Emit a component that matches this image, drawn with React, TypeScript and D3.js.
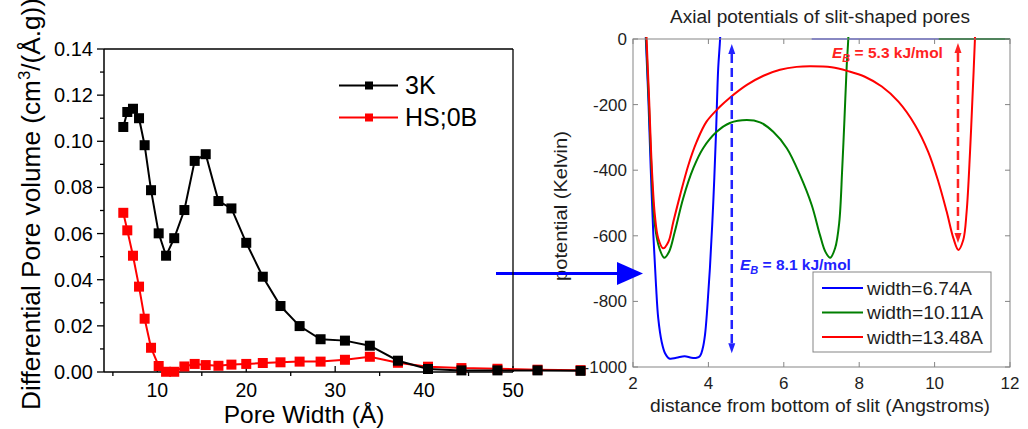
import React from 'react';
import * as d3 from 'd3';

// ---------- Left chart data ----------
const poreWidth = [6.17, 6.62, 7.26, 7.94, 8.57, 9.29, 10.15, 10.98, 11.9, 13.04, 14.2, 15.44, 16.87, 18.33, 20.0, 21.86, 23.85, 26.0, 28.36, 31.1, 33.9, 37.06, 40.44, 44.2, 48.25, 52.76, 57.6];
const dv3K = [0.1062, 0.1127, 0.1141, 0.110, 0.0983, 0.0788, 0.0601, 0.0504, 0.058, 0.0702, 0.0915, 0.0944, 0.0741, 0.0709, 0.056, 0.0413, 0.0286, 0.0199, 0.0142, 0.0136, 0.0114, 0.0049, 0.0013, 0.0007, 0.0007, 0.0007, 0.0005];
const dvHS0B = [0.069, 0.0614, 0.0504, 0.037, 0.0231, 0.0105, 0.0026, 0.0001, 0.0001, 0.0024, 0.0035, 0.003, 0.0027, 0.0032, 0.0035, 0.0039, 0.0042, 0.0045, 0.0045, 0.0053, 0.0066, 0.004, 0.0023, 0.0017, 0.0014, 0.001, 0.0008];
const leftSeriesNames = ['3K', 'HS;0B'];
const leftYTicks = [0, 0.02, 0.04, 0.06, 0.08, 0.1, 0.12, 0.14];
const leftYMinor = [0.01, 0.03, 0.05, 0.07, 0.09, 0.11, 0.13];
const leftXTicks = [10, 20, 30, 40, 50];
const leftXMinor = [5, 15, 25, 35, 45];

// ---------- Right chart data ----------
const distBlue = [2.30, 2.34, 2.41, 2.47, 2.54, 2.61, 2.67, 2.76, 2.85, 2.96, 3.15, 3.37, 3.55, 3.69, 3.78, 3.85, 3.91, 3.97, 4.04, 4.13, 4.20, 4.26, 4.31, 4.35];
const potBlue = [150, 0, -191, -394, -598, -750, -852, -923, -958, -974, -972, -967, -972, -972, -966, -943, -902, -821, -699, -496, -293, -89, 0, 150];
const distGreen = [2.30, 2.35, 2.42, 2.49, 2.58, 2.70, 2.83, 2.96, 3.11, 3.33, 3.60, 3.86, 4.22, 4.57, 5.02, 5.37, 5.72, 6.08, 6.43, 6.74, 6.96, 7.10, 7.23, 7.36, 7.47, 7.55, 7.61, 7.67, 7.71, 7.75];
const potGreen = [150, 0, -191, -394, -567, -638, -667, -648, -587, -486, -394, -333, -283, -256, -247, -254, -283, -333, -415, -506, -598, -648, -667, -638, -560, -394, -242, -79, 0, 150];
const distRed = [2.30, 2.36, 2.43, 2.50, 2.58, 2.67, 2.80, 2.94, 3.07, 3.25, 3.47, 3.69, 3.95, 4.31, 4.57, 5.02, 5.46, 5.90, 6.34, 6.69, 7.27, 7.71, 8.15, 8.60, 9.04, 9.48, 9.83, 10.10, 10.32, 10.50, 10.63, 10.76, 10.85, 10.94, 11.00, 11.07, 11.11];
const potRed = [150, 0, -191, -394, -537, -608, -638, -618, -557, -476, -384, -313, -252, -206, -179, -140, -112, -94, -85, -83, -86, -98, -115, -145, -191, -262, -344, -435, -526, -608, -643, -613, -526, -344, -191, 0, 150];
const slitWidths = [6.74, 10.11, 13.48];
const rightSeriesNames = ['width=6.74A', 'width=10.11A', 'width=13.48A'];
const rightXTicks = [2, 4, 6, 8, 10, 12];
const rightYTicks = [0, -200, -400, -600, -800, -1000];
const barrierX = [4.62, 10.62];
const barrierTop = [-15, -12];
const barrierBottom = [-958, -622];
const barrierLabels = ['8.1', '5.3'];

const FONT = '"Liberation Sans", Arial, Helvetica, sans-serif';

function Arrow({ x, y0, y1, color }: { x: number; y0: number; y1: number; color: string }) {
  const hl = 10, hw = 3.5;
  return (
    <g>
      <line x1={x} x2={x} y1={y0 + hl} y2={y1 - hl} stroke={color} strokeWidth={2.5} strokeDasharray="9,5" />
      <path d={`M${x},${y0} L${x - hw},${y0 + hl} L${x + hw},${y0 + hl} Z`} fill={color} />
      <path d={`M${x},${y1} L${x - hw},${y1 - hl} L${x + hw},${y1 - hl} Z`} fill={color} />
    </g>
  );
}

export default function App() {
  // left scales
  const lx = d3.scaleLinear().domain([4, 50]).range([104, 513]);
  const ly = d3.scaleLinear().domain([0, 0.14]).range([372, 49]);
  const lLine = d3.line<[number, number]>().x(d => lx(d[0])).y(d => ly(d[1]));
  const s3K = poreWidth.map((w, i) => [w, dv3K[i]] as [number, number]);
  const sHS = poreWidth.map((w, i) => [w, dvHS0B[i]] as [number, number]);

  // right scales
  const rx = d3.scaleLinear().domain([2, 12]).range([633, 1010]);
  const ry = d3.scaleLinear().domain([-1000, 0]).range([367, 39]);
  const rLine = d3.line<[number, number]>().x(d => rx(d[0])).y(d => ry(d[1])).curve(d3.curveCatmullRom.alpha(0.5));
  const rColors = ['#0000ff', '#007f00', '#ff0000'];
  const rSeries = [
    distBlue.map((d, i) => [d, potBlue[i]] as [number, number]),
    distGreen.map((d, i) => [d, potGreen[i]] as [number, number]),
    distRed.map((d, i) => [d, potRed[i]] as [number, number]),
  ];
  const legendLens = [105, 116, 116];
  const axisGray = '#858585';
  const txt = '#1e1e1e';

  return (
    <svg width={1028} height={429} style={{ position: 'absolute', left: 0, top: 0, background: '#fff' }} fontFamily={FONT}>
      <rect x={0} y={0} width={1028} height={429} fill="#fff" />
      <defs>
        <clipPath id="rclip">
          <rect x={633} y={37} width={377} height={330} />
        </clipPath>
      </defs>

      {/* ---------- Right chart ---------- */}
      <text x={820} y={23} textAnchor="middle" fontSize={18} fill={txt} textLength={300} lengthAdjust="spacingAndGlyphs">Axial potentials of slit-shaped pores</text>
      <g clipPath="url(#rclip)">
        {rSeries.map((s, i) => (
          <g key={i}>
            <path d={rLine(s) || ''} fill="none" stroke={rColors[i]} strokeWidth={2} />
            {slitWidths[i] < 12 && (
              <line x1={rx(slitWidths[i])} x2={rx(12)} y1={ry(0)} y2={ry(0)} stroke={rColors[i]} strokeWidth={2} opacity={i === 0 ? 0.45 : 0.8} />
            )}
          </g>
        ))}
      </g>
      <rect x={633} y={39} width={377} height={328} fill="none" stroke={axisGray} strokeWidth={1} />
      {rightXTicks.map(t => (
        <g key={'rx' + t}>
          <line x1={rx(t)} x2={rx(t)} y1={367} y2={362} stroke={axisGray} />
          <line x1={rx(t)} x2={rx(t)} y1={39} y2={44} stroke={axisGray} />
          <text x={rx(t)} y={389} textAnchor="middle" fontSize={17} fill={txt}>{t}</text>
        </g>
      ))}
      {rightYTicks.map(t => (
        <g key={'ry' + t}>
          <line x1={633} x2={638} y1={ry(t)} y2={ry(t)} stroke={axisGray} />
          <line x1={1010} x2={1005} y1={ry(t)} y2={ry(t)} stroke={axisGray} />
          <text x={627} y={ry(t) + 6} textAnchor="end" fontSize={17} fill={txt}>{t}</text>
        </g>
      ))}
      <text x={820} y={412} textAnchor="middle" fontSize={18.5} fill={txt} textLength={340} lengthAdjust="spacingAndGlyphs">distance from bottom of slit (Angstroms)</text>
      <text transform="translate(567,206) rotate(-90)" textAnchor="middle" fontSize={18} fill={txt} textLength={150} lengthAdjust="spacingAndGlyphs">potential (Kelvin)</text>

      {/* barrier annotations */}
      {barrierX.map((bx, i) => (
        <Arrow key={'ar' + i} x={rx(bx)} y0={ry(barrierTop[i])} y1={ry(barrierBottom[i])} color={i === 0 ? '#2222ff' : '#ff2222'} />
      ))}
      <text x={740} y={270} fontSize={15.5} fontWeight="bold" fill="#2222ff">
        <tspan fontStyle="italic">E</tspan>
        <tspan fontStyle="italic" fontSize={11} dy={4}>B</tspan>
        <tspan dy={-4}>{` = ${barrierLabels[0]} kJ/mol`}</tspan>
      </text>
      <text x={832} y={58} fontSize={15.5} fontWeight="bold" fill="#ff2222">
        <tspan fontStyle="italic">E</tspan>
        <tspan fontStyle="italic" fontSize={11} dy={4}>B</tspan>
        <tspan dy={-4}>{` = ${barrierLabels[1]} kJ/mol`}</tspan>
      </text>

      {/* right legend */}
      <rect x={813} y={272} width={178} height={80} fill="#fff" stroke={axisGray} strokeWidth={1} />
      {rightSeriesNames.map((n, i) => (
        <g key={n}>
          <line x1={822} x2={863} y1={288 + i * 24.5} y2={288 + i * 24.5} stroke={rColors[i]} strokeWidth={2} />
          <text x={867} y={294.5 + i * 24.5} fontSize={18} fill={txt} textLength={legendLens[i]} lengthAdjust="spacingAndGlyphs">{n}</text>
        </g>
      ))}

      {/* big blue arrow */}
      <line x1={496} x2={620} y1={273.5} y2={273.5} stroke="#0000ff" strokeWidth={3} />
      <path d="M617,262 L643,273.5 L617,285 Z" fill="#0000ff" />

      {/* ---------- Left chart ---------- */}
      <line x1={104} x2={513} y1={49} y2={49} stroke="#000" strokeWidth={1.3} />
      <line x1={513} x2={513} y1={49} y2={372} stroke="#000" strokeWidth={1.3} />
      <line x1={104} x2={104} y1={49} y2={372} stroke="#000" strokeWidth={1.5} />
      <line x1={104} x2={513} y1={372} y2={372} stroke="#000" strokeWidth={1.5} />
      {leftYTicks.map(t => (
        <g key={'ly' + t}>
          <line x1={97} x2={104} y1={ly(t)} y2={ly(t)} stroke="#000" strokeWidth={1.3} />
          <text x={93} y={ly(t) + 7} textAnchor="end" fontSize={20} fill="#000">{t.toFixed(2)}</text>
        </g>
      ))}
      {leftYMinor.map(t => (
        <line key={'lym' + t} x1={100} x2={104} y1={ly(t)} y2={ly(t)} stroke="#000" strokeWidth={1.3} />
      ))}
      {leftXTicks.map(t => (
        <g key={'lx' + t}>
          <line x1={lx(t)} x2={lx(t)} y1={372} y2={366} stroke="#000" strokeWidth={1.3} />
          <text x={lx(t)} y={397} textAnchor="middle" fontSize={19.5} fill="#000">{t}</text>
        </g>
      ))}
      {leftXMinor.map(t => (
        <line key={'lxm' + t} x1={lx(t)} x2={lx(t)} y1={372} y2={376} stroke="#000" strokeWidth={1.3} />
      ))}
      <text x={304} y={423} textAnchor="middle" fontSize={24.5} fill="#000">Pore Width (Å)</text>
      <text transform="translate(40,410) rotate(-90)" textAnchor="start" fontSize={25} fill="#000" textLength={412} lengthAdjust="spacingAndGlyphs">
        Differential Pore volume (cm<tspan fontSize={16} dy={-10}>3</tspan><tspan dy={10}>/(Å.g))</tspan>
      </text>

      {/* series */}
      <path d={lLine(sHS) || ''} fill="none" stroke="#ff0000" strokeWidth={2} />
      {sHS.map((d, i) => (
        <rect key={'h' + i} x={lx(d[0]) - 5} y={ly(d[1]) - 5} width={10} height={10} fill="#ff0000" />
      ))}
      <path d={lLine(s3K) || ''} fill="none" stroke="#000" strokeWidth={2} />
      {s3K.map((d, i) => (
        <rect key={'k' + i} x={lx(d[0]) - 5} y={ly(d[1]) - 5} width={10} height={10} fill="#000" />
      ))}

      {/* left legend */}
      {leftSeriesNames.map((n, i) => (
        <g key={n}>
          <line x1={339} x2={398} y1={85.5 + i * 32} y2={85.5 + i * 32} stroke={i === 0 ? '#000' : '#ff0000'} strokeWidth={2} />
          <rect x={365} y={81.5 + i * 32} width={8} height={8} fill={i === 0 ? '#000' : '#ff0000'} />
          <text x={405} y={94 + i * 32} fontSize={25} fill="#000">{n}</text>
        </g>
      ))}
    </svg>
  );
}
